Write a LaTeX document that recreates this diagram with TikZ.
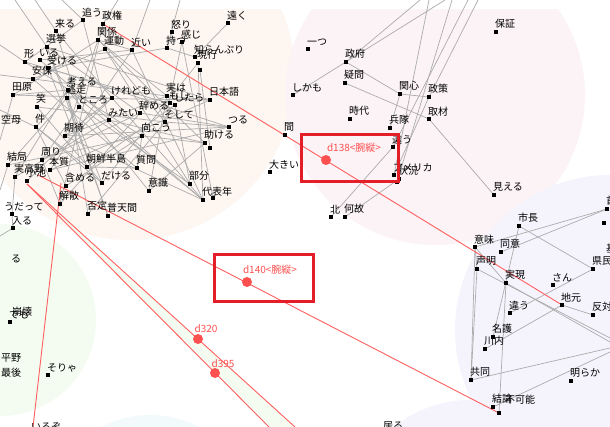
\documentclass[tikz,border=0pt]{standalone}
\usepackage{fontspec}
\newfontfamily\jp{Noto Sans CJK JP}
\pgfdeclarelayer{back}\pgfdeclarelayer{mid}
\pgfsetlayers{back,mid,main}
\definecolor{bgbeige}{RGB}{253,246,241}
\definecolor{bgpink}{RGB}{252,243,247}
\definecolor{bglav}{RGB}{245,244,253}
\definecolor{bggreen}{RGB}{244,252,242}
\definecolor{bgcyan}{RGB}{242,250,252}
\definecolor{edgegray}{RGB}{172,172,172}
\definecolor{redln}{RGB}{255,95,95}
\definecolor{reddot}{RGB}{255,80,80}
\definecolor{redbox}{RGB}{228,30,40}
\newcommand\wn[4]{\node[sq] (#1) at (#2,#3) {};\node[lbl] (#1-t) at (#2-1,#3-3) {#4};}
\newcommand\sqn[3]{\node[sq] (#1) at (#2,#3) {};}
\begin{document}
\begin{tikzpicture}[x=1pt,y=-1pt,
  sq/.style={rectangle,fill=black,minimum size=3.6pt,inner sep=0pt},
  lbl/.style={anchor=south west,inner sep=0pt,font=\jp\fontsize{10}{10}\selectfont},
  edge/.style={draw=edgegray,line width=0.7pt},
  redline/.style={draw=redln,line width=0.9pt},
  rdot/.style={circle,fill=reddot,minimum size=10pt,inner sep=0pt},
  rbox/.style={draw=redbox,line width=2.6pt,fill=none},
  dlab/.style={text=reddot,inner sep=0pt,font=\jp\fontsize{10}{10}\selectfont}]
\useasboundingbox (0,0) rectangle (610,427);
\begin{pgfonlayer}{back}
\fill[white] (0,0) rectangle (610,427);
\begin{scope}
\clip (0,10) rectangle (610,427);
\fill[bgbeige] (130,75) circle[radius=165pt];
\fill[bgpink] (435,95) circle[radius=150pt];
\fill[bglav] (610,330) circle[radius=155pt];
\fill[bggreen] (0,320) circle[radius=96pt];
\fill[bgcyan] (150,520) circle[radius=105pt];
\fill[bglav] (470,520) circle[radius=120pt];
\fill[bggreen] (27,184) -- (295,427) -- (269,427) -- cycle;
\end{scope}
\end{pgfonlayer}
% ---------- left cluster
\wn{oiu}{83}{20}{追う}
\wn{seiken}{103}{24}{政権}
\wn{kankei}{98}{40}{関係}
\wn{undou}{105}{49}{運動}
\wn{kuru}{56}{31}{来る}
\wn{senkyo}{47}{47}{選挙}
\wn{kata}{25}{62}{形}
\wn{iru}{40}{60}{いる}
\wn{ukeru}{48}{68}{受ける}
\wn{anpo}{33}{79}{安保}
\wn{tahara}{13}{95}{田原}
\wn{kangaeru}{68}{90}{考える}
\wn{tousou}{67}{98}{逃走}
\wn{tokoro}{79}{107}{ところ}
\wn{warai}{37}{107}{笑}
\wn{keredomo}{112}{98}{けれども}
\wn{yameru}{140}{113}{辞める}
\wn{mitai}{109}{120}{みたい}
\wn{jitsuha}{167}{96}{実は}
\wn{moshi}{170}{103}{もし}
\wn{shitara}{175}{105}{したら}
\wn{soshite}{165}{122}{そして}
\wn{mukou}{142}{136}{向こう}
\wn{kitai}{65}{136}{期待}
\wn{chosen}{87}{167}{朝鮮半島}
\wn{shitsumon}{137}{168}{質問}
\wn{nihongo}{210}{100}{日本語}
\wn{shiran}{195}{57}{知らんぷり}
\wn{genkou}{198}{63}{現行}
\sqn{genkoub}{200}{70}
\wn{ikari}{172}{32}{怒り}
\wn{kanji}{182}{42}{感じ}
\wn{motsu}{167}{48}{持つ}
\wn{tooku}{228}{23}{遠く}
\wn{chikai}{132}{50}{近い}
\wn{tsuru}{229}{127}{つる}
\wn{tasukeru}{205}{143}{助ける}
\sqn{tasukerub}{210}{148}
\wn{bubun}{190}{184}{部分}
\wn{daihyo}{203}{200}{代表年}
\sqn{daihyob}{213}{198}
\wn{ishiki}{149}{191}{意識}
\wn{ken}{36}{127}{件}
\node[lbl] (kuubo) at (1,125) {空母};
\wn{kekkyoku}{8}{165}{結局}
\wn{mawari}{42}{160}{周り}
\wn{honshitsu}{50}{170}{本質}
\wn{jitsu}{15}{177}{実高野}
\wn{koike}{27}{181}{小池}
\wn{kaisan}{60}{204}{解散}
\wn{fukumeru}{66}{186}{含める}
\wn{dakeru}{102}{183}{だける}
\wn{hitei}{88}{214}{否定}
\wn{futenma}{108}{216}{普天間}
\sqn{udatte}{12}{214}
\node[lbl] (udatte-t) at (4,211) {うだって};
\wn{hairu}{13}{228}{入る}
\node[lbl] (ru) at (11,263) {る};
\node[lbl] (houkai) at (12,317) {崩壊};
\wn{demo}{10}{322}{でも}
\node[lbl] (hirano) at (1,362) {平野};
\node[lbl] (saigo) at (1,378) {最後};
\wn{sorya}{48}{375}{そりゃ}
\node[lbl] (iruzo) at (31,431) {いるぞ};
\node[lbl] (iru2) at (383,431) {居る};
% ---------- top right cluster
\wn{hitotsu}{308}{49}{一つ}
\wn{seifu}{346}{62}{政府}
\wn{gimon}{345}{83}{疑問}
\wn{shikamo}{293}{95}{しかも}
\wn{kanshin}{400}{94}{関心}
\wn{seisaku}{429}{97}{政策}
\wn{jidai}{350}{119}{時代}
\wn{heitai}{390}{128}{兵隊}
\wn{shuzai}{429}{119}{取材}
\wn{ma}{285}{135}{間}
\wn{chigau}{393}{147}{違う}
\wn{ookii}{270}{172}{大きい}
\wn{amerika}{394}{175}{アメリカ}
\wn{joukyou}{399}{179}{状況}
\sqn{amerikab}{397}{182}
\wn{kita}{331}{217}{北}
\wn{naze}{345}{217}{何故}
\wn{hoshou}{496}{32}{保証}
\wn{mieru}{494}{195}{見える}
% ---------- bottom right cluster
\wn{shichou}{519}{226}{市長}
\wn{imi}{475}{247}{意味}
\wn{doui}{501}{252}{同意}
\wn{seimei}{477}{269}{声明}
\wn{jitsugen}{506}{283}{実現}
\wn{san}{553}{285}{さん}
\wn{jimoto}{562}{305}{地元}
\wn{chigaub}{510}{313}{違う}
\wn{meigo}{493}{337}{名護}
\wn{kawauchi}{485}{349}{川内}
\wn{kyoudou}{471}{380}{共同}
\wn{akiraka}{571}{381}{明らか}
\wn{ketsuron}{493}{407}{結論}
\sqn{fukanou}{499}{413}
\node[lbl] (fukanou-t) at (505,404) {不可能};
\wn{hantai}{593}{315}{反対}
\wn{kenmin}{593}{269}{県民}
\wn{shushou}{607}{209}{首相}
\sqn{trb}{604}{223}
\node[lbl] (kichi) at (606,253) {基地};
% border points
\coordinate (b1) at (15,0); \coordinate (b2) at (35,0); \coordinate (b3) at (62,0);
\coordinate (b4) at (118,0); \coordinate (b5) at (150,0); \coordinate (b6) at (0,45);
\coordinate (b7) at (0,110); \coordinate (b8) at (0,140); \coordinate (b9) at (0,190);
\coordinate (b10) at (0,236); \coordinate (b11) at (180,0); \coordinate (b12) at (0,75);
\coordinate (r1) at (445,0); \coordinate (r2) at (420,0); \coordinate (r3) at (478,0);
\coordinate (r4) at (468,0); \coordinate (r5) at (429,0); \coordinate (r6) at (452,0);
\coordinate (e1) at (610,338); \coordinate (e2) at (610,342); \coordinate (e3) at (610,348);
\coordinate (e4) at (610,352);
\coordinate (redA) at (38,175); \coordinate (redB) at (27,184);
\coordinate (redC) at (61,183); \coordinate (redC2) at (33,427);
\coordinate (redD1) at (295,427); \coordinate (redD2) at (269,427);
\begin{pgfonlayer}{mid}
\foreach \a/\b in {kankei/chikai,kankei/jitsuha,kankei/tasukeru,kankei/tahara,kankei/kitai,
 undou/bubun,undou/soshite,undou/anpo,oiu/mitai,oiu/kata,kuru/tokoro,kuru/keredomo,
 senkyo/yameru,senkyo/dakeru,senkyo/nihongo,kata/shitara,kata/mukou,iru/daihyo,iru/chikai,
 ukeru/tsuru,ukeru/chosen,anpo/jitsuha,anpo/shitsumon,tahara/keredomo,tahara/kangaeru,
 kangaeru/daihyo,kangaeru/ken,tousou/nihongo,tousou/futenma,tokoro/bubun,tokoro/mawari,
 warai/soshite,warai/dakeru,keredomo/daihyo,keredomo/kitai,yameru/tsuru,yameru/kaisan,
 mitai/tasukeru,mitai/jitsu,jitsuha/kitai,jitsuha/ishiki,shitara/chosen,shitara/bubun,
 soshite/tsuru,soshite/hitei,mukou/tasukeru,mukou/kekkyoku,kitai/daihyo,kitai/tsuru,
 chosen/shitsumon,chosen/ken,shitsumon/mukou,nihongo/jitsuha,nihongo/honshitsu,
 shiran/tooku,shiran/motsu,genkou/daihyo,genkoub/tasukerub,ikari/motsu,kanji/soshite,
 kanji/daihyob,motsu/ukeru,chikai/daihyo,ishiki/tasukeru,ishiki/kangaeru,ken/fukumeru,
 ken/dakeru,kekkyoku/tousou,mawari/yameru,honshitsu/chikai,honshitsu/tsuru,jitsu/kangaeru,
 koike/keredomo,kaisan/seiken,kaisan/mawari,fukumeru/mukou,dakeru/genkou,hitei/kangaeru,
 futenma/senkyo,udatte/hairu,udatte/jitsu,
 kata/b6,tahara/b8,ken/b7,kekkyoku/b9,oiu/b3,seiken/b4,kuru/b2,senkyo/b1,chikai/b5,
 motsu/b11,hairu/b10,anpo/b12,
 shikamo/r1,seifu/r2,seifu/kanshin,gimon/shuzai,kanshin/seisaku,seisaku/r3,seisaku/amerika,
 shuzai/mieru,chigau/kita,joukyou/naze,chigau/r4,amerika/r5,amerikab/r6,heitai/kanshin,
 shichou/meigo,shichou/kenmin,imi/shushou,doui/shushou,imi/seimei,imi/kyoudou,
 seimei/kyoudou,seimei/e1,jitsugen/e2,imi/jitsugen,jimoto/hantai,jitsugen/fukanou,
 kenmin/chigaub,jimoto/kawauchi,kyoudou/e3,ketsuron/e4}
 \draw[edge] (\a) -- (\b);
\draw[redline] (seiken.center) -- (jimoto.center);
\draw[redline] (redA) -- (fukanou.center);
\draw[redline] (redB) -- (redD1);
\draw[redline] (redB) -- (redD2);
\draw[redline] (redC) -- (redC2);
\end{pgfonlayer}
% ---------- highlighted items
\node[rdot] (d138) at (326,160) {};
\node[dlab] (d138-t) at (354,148) {d138<腕縦>};
\node[rbox,minimum width=97pt,minimum height=47pt,anchor=north west] (box138) at (300,133) {};
\node[rdot] (d140) at (247,282) {};
\node[dlab] (d140-t) at (270,270) {d140<腕縦>};
\node[rbox,minimum width=99pt,minimum height=47pt,anchor=north west] (box140) at (213,253) {};
\node[rdot] (d320) at (198,339) {};
\node[dlab] (d320-t) at (206,329) {d320};
\node[rdot] (d395) at (215,373) {};
\node[dlab] (d395-t) at (223,364) {d395};
\end{tikzpicture}
\end{document}
